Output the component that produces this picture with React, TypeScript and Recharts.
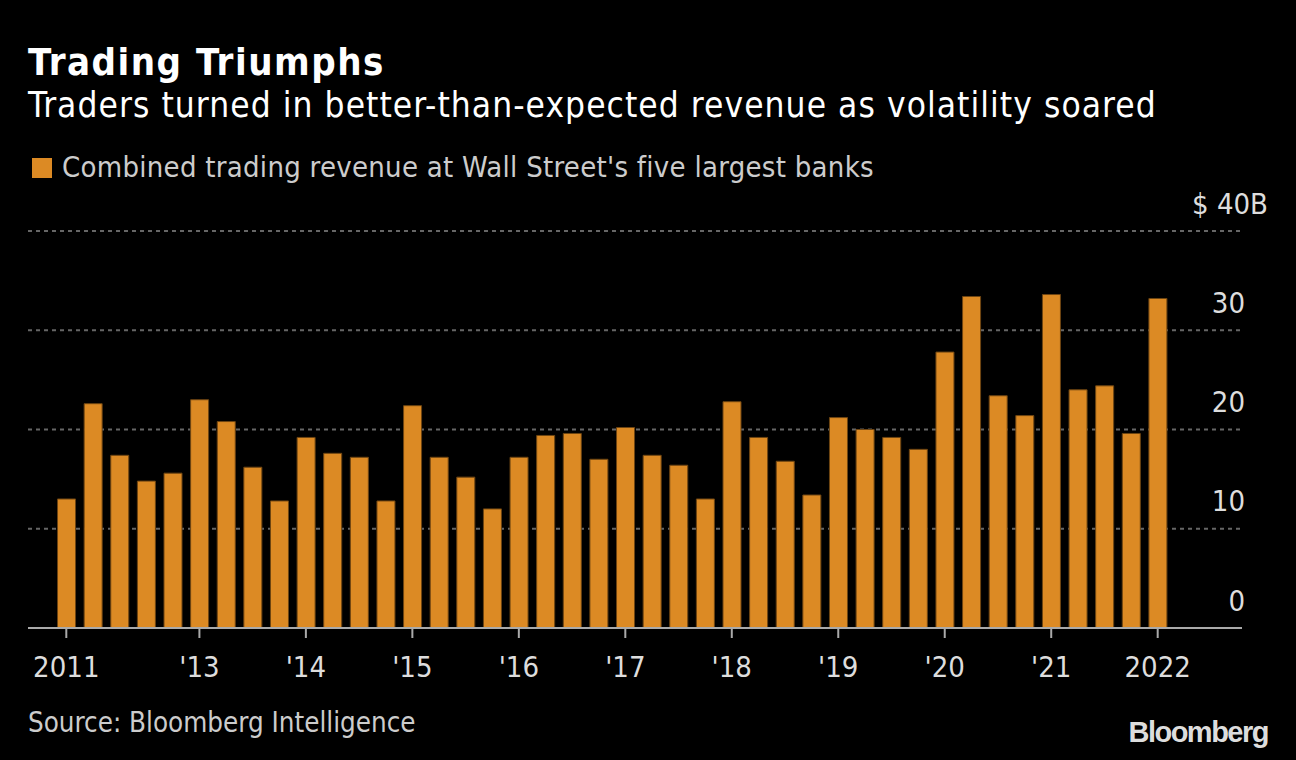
import { BarChart, Bar, XAxis, YAxis, CartesianGrid } from "recharts";

// combined trading revenue, $B, quarterly
const quarters = [
  "4Q11",
  "1Q12", "2Q12", "3Q12", "4Q12",
  "1Q13", "2Q13", "3Q13", "4Q13",
  "1Q14", "2Q14", "3Q14", "4Q14",
  "1Q15", "2Q15", "3Q15", "4Q15",
  "1Q16", "2Q16", "3Q16", "4Q16",
  "1Q17", "2Q17", "3Q17", "4Q17",
  "1Q18", "2Q18", "3Q18", "4Q18",
  "1Q19", "2Q19", "3Q19", "4Q19",
  "1Q20", "2Q20", "3Q20", "4Q20",
  "1Q21", "2Q21", "3Q21", "4Q21",
  "1Q22",
];

const revenue = [
  13.0,
  22.6, 17.4, 14.8, 15.6,
  23.0, 20.8, 16.2, 12.8,
  19.2, 17.6, 17.2, 12.8,
  22.4, 17.2, 15.2, 12.0,
  17.2, 19.4, 19.6, 17.0,
  20.2, 17.4, 16.4, 13.0,
  22.8, 19.2, 16.8, 13.4,
  21.2, 20.0, 19.2, 18.0,
  27.8, 33.4, 23.4, 21.4,
  33.6, 24.0, 24.4, 19.6,
  33.2,
];

const tickQuarters = ["4Q11", "1Q13", "1Q14", "1Q15", "1Q16", "1Q17", "1Q18", "1Q19", "1Q20", "1Q21", "1Q22"];
const tickLabels = ["2011", "'13", "'14", "'15", "'16", "'17", "'18", "'19", "'20", "'21", "2022"];
const yTicks = [0, 10, 20, 30, 40];

const data = quarters.map((q, i) => ({ q, value: revenue[i] }));

const FONT = "'DejaVu Sans Condensed', 'DejaVu Sans', sans-serif";
const ORANGE = "#dc8a24";

const XTick = (props: any) => {
  const { x, y, payload } = props;
  const idx = tickQuarters.indexOf(payload.value);
  return (
    <text x={x} y={y + 39} textAnchor="middle" fill="#dddddd" fontSize={29}
      fontFamily={FONT} style={{ fontStretch: "condensed" }}>
      {tickLabels[idx]}
    </text>
  );
};

// right axis labels sit above their gridline, "$ 40B" on the top one
const YTick = (props: any) => {
  const { x, y, payload } = props;
  const top = payload.value === 40;
  return (
    <text x={top ? x + 26 : x + 3} y={y - 17.5} textAnchor="end" fill="#dddddd" fontSize={29}
      fontFamily={FONT} style={{ fontStretch: "condensed" }}>
      {top ? `$ ${payload.value}B` : payload.value}
    </text>
  );
};

const textBase: any = {
  position: "absolute",
  lineHeight: 1,
  fontFamily: FONT,
  fontStretch: "condensed",
  whiteSpace: "nowrap",
  margin: 0,
};

export default function App() {
  return (
    <div style={{ position: "absolute", left: 0, top: 0, width: 1296, height: 760, background: "#000", overflow: "hidden" }}>
      <div style={{ ...textBase, left: 28, top: 43, fontSize: 38, fontWeight: 700, color: "#fff", letterSpacing: 1.5 }}>
        Trading Triumphs
      </div>
      <div style={{ ...textBase, left: 28, top: 88, fontSize: 35, color: "#fff", letterSpacing: 1.05 }}>
        Traders turned in better-than-expected revenue as volatility soared
      </div>
      <div style={{ position: "absolute", left: 32, top: 158, width: 20, height: 20, background: ORANGE }} />
      <div style={{ ...textBase, left: 62, top: 153, fontSize: 29, color: "#cccccc", letterSpacing: 0.27 }}>
        Combined trading revenue at Wall Street's five largest banks
      </div>

      <div style={{ position: "absolute", left: 0, top: 0 }}>
        <BarChart width={1296} height={760} data={data}
          margin={{ top: 231, right: 44, left: 28, bottom: 72 }}
          barCategoryGap="17%">
          <CartesianGrid vertical={false} stroke="#666666" strokeWidth={2} strokeDasharray="4 4" />
          <XAxis dataKey="q" ticks={tickQuarters} interval={0} height={60}
            padding={{ left: 25, right: 71 }}
            axisLine={{ stroke: "#aaaaaa", strokeWidth: 2 }}
            tickLine={{ stroke: "#aaaaaa", strokeWidth: 2 }}
            tickSize={10} tickMargin={0} tick={<XTick />} />
          <YAxis orientation="right" domain={[0, 40]} ticks={yTicks} width={10}
            axisLine={false} tickLine={false} tickSize={0} tickMargin={0}
            tick={<YTick />} />
          <Bar dataKey="value" fill={ORANGE} stroke="#6e4512" strokeWidth={1} isAnimationActive={false} />
        </BarChart>
      </div>

      <div style={{ ...textBase, left: 28, top: 709, fontSize: 27.5, color: "#cccccc" }}>
        Source: Bloomberg Intelligence
      </div>
      <div style={{ ...textBase, right: 28, top: 718, fontSize: 29, fontWeight: 700, color: "#dddddd",
        fontFamily: "'Liberation Sans', Arial, sans-serif", fontStretch: "normal", letterSpacing: -1.5 }}>
        Bloomberg
      </div>
    </div>
  );
}
